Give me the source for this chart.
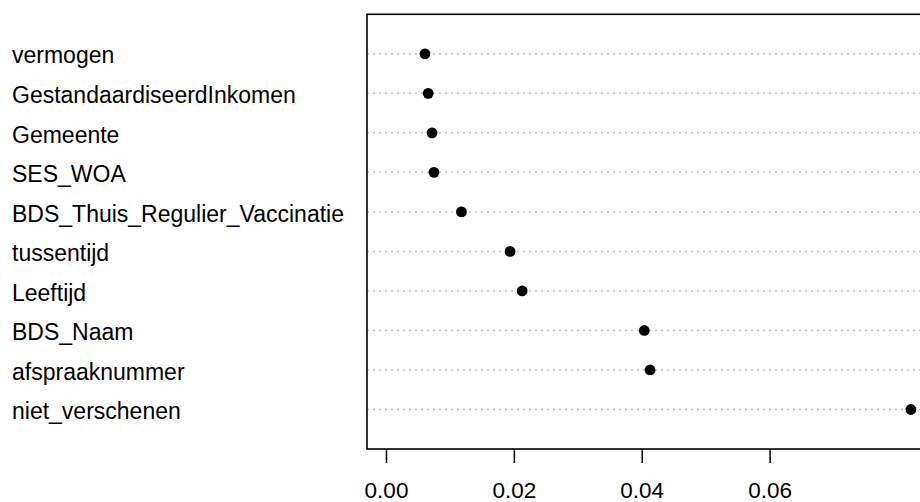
<!DOCTYPE html>
<html lang="en">
  <head>
    <meta charset="UTF-8" />
    <title>Dotchart</title>
    <style>
      html, body { margin: 0; padding: 0; background: #fff; }
      svg text { font-family: "Liberation Sans", Arial, sans-serif; fill: #000; }
    </style>
  </head>
  <body>
    <div class="chart"></div>
    <script src="https://d3js.org/d3.v7.min.js"></script>
    <script>
      // data, top row first
      const variables = [
        "vermogen",
        "GestandaardiseerdInkomen",
        "Gemeente",
        "SES_WOA",
        "BDS_Thuis_Regulier_Vaccinatie",
        "tussentijd",
        "Leeftijd",
        "BDS_Naam",
        "afspraaknummer",
        "niet_verschenen",
      ];
      const importance = [
        0.0061, 0.0066, 0.0072, 0.0075, 0.0118,
        0.0194, 0.0213, 0.0404, 0.0413, 0.0821,
      ];
      const xTicks = [0, 0.02, 0.04, 0.06];

      const drawDotchart = () => {
        const width = 920;
        const height = 502;
        const box = { left: 367, right: 932, top: 14.3, bottom: 449 };

        const svg = d3
          .select(".chart")
          .append("svg")
          .attr("width", width)
          .attr("height", height);

        const data = variables.map((name, i) => ({ name, value: importance[i] }));

        // x scale: box runs a little past 0 on the left and past the max on the right
        const xScale = d3
          .scaleLinear()
          .domain([-0.00297, 0.0854])
          .range([box.left, box.right]);

        // y scale: one row per variable, half-gap at top and bottom
        const yScale = d3
          .scalePoint()
          .domain(variables)
          .range([box.top, box.bottom])
          .padding(1);

        // dotted guide lines
        svg
          .append("g")
          .selectAll("line")
          .data(data)
          .join("line")
          .attr("x1", box.left)
          .attr("x2", box.right)
          .attr("y1", (d) => yScale(d.name))
          .attr("y2", (d) => yScale(d.name))
          .attr("stroke", "#c4c4c4")
          .attr("stroke-width", 1.5)
          .attr("stroke-dasharray", "2,4");

        // box
        svg
          .append("rect")
          .attr("x", box.left)
          .attr("y", box.top)
          .attr("width", box.right - box.left)
          .attr("height", box.bottom - box.top)
          .attr("fill", "none")
          .attr("stroke", "#000")
          .attr("stroke-width", 1.6);

        // points
        svg
          .append("g")
          .selectAll("circle")
          .data(data)
          .join("circle")
          .attr("cx", (d) => xScale(d.value))
          .attr("cy", (d) => yScale(d.name))
          .attr("r", 5.4)
          .attr("fill", "#000");

        // row labels, left aligned
        svg
          .append("g")
          .selectAll("text")
          .data(data)
          .join("text")
          .attr("x", 12)
          .attr("y", (d) => yScale(d.name))
          .attr("dy", "0.42em")
          .style("font-size", "23px")
          .text((d) => d.name);

        // x axis
        const xAxis = svg
          .append("g")
          .attr("transform", `translate(0,${box.bottom})`)
          .call(
            d3
              .axisBottom(xScale)
              .tickValues(xTicks)
              .tickFormat(d3.format(".2f"))
              .tickSize(14)
              .tickPadding(19)
          );
        xAxis.select(".domain").remove();
        xAxis.selectAll(".tick line").attr("stroke", "#000").attr("stroke-width", 1.5);
        xAxis
          .selectAll(".tick text")
          .attr("fill", "#000")
          .style("font-size", "22.5px")
          .style("font-family", '"Liberation Sans", Arial, sans-serif');
      };

      drawDotchart();
    </script>
  </body>
</html>
